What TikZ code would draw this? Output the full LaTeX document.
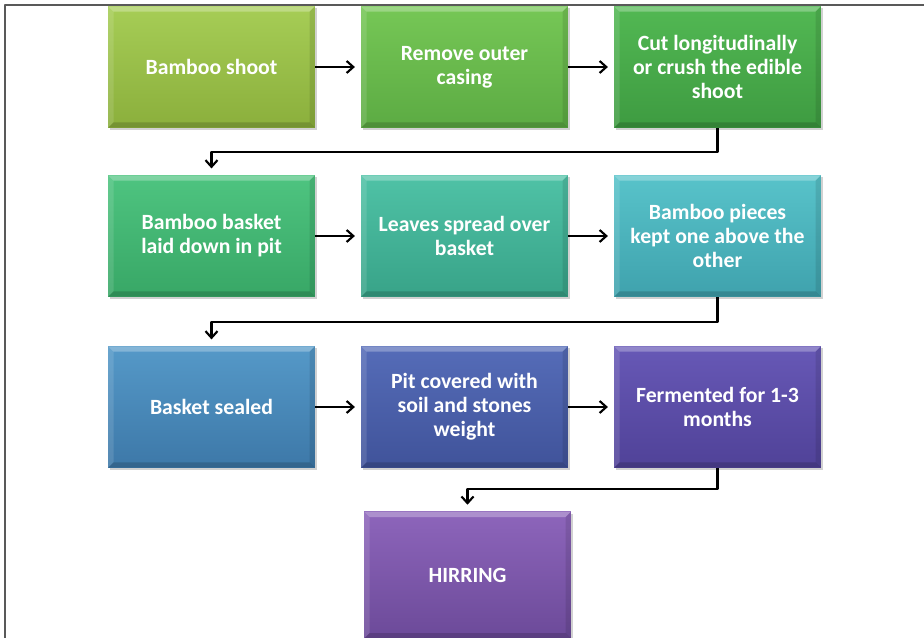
\documentclass[tikz,border=0pt]{standalone}
\usepackage{fontspec}
\setmainfont{Carlito}
\usetikzlibrary{arrows.meta,shadows}
\definecolor{boneT}{HTML}{A6CD56}\definecolor{boneB}{HTML}{8BAF3C}
\definecolor{btwoT}{HTML}{76C756}\definecolor{btwoB}{HTML}{5CAB43}
\definecolor{bthrT}{HTML}{52B853}\definecolor{bthrB}{HTML}{3E9B41}
\definecolor{coneT}{HTML}{4EC480}\definecolor{coneB}{HTML}{38A766}
\definecolor{ctwoT}{HTML}{4FC2A6}\definecolor{ctwoB}{HTML}{38A388}
\definecolor{cthrT}{HTML}{58C3CA}\definecolor{cthrB}{HTML}{3FA2AD}
\definecolor{doneT}{HTML}{5599C8}\definecolor{doneB}{HTML}{3D78A8}
\definecolor{dtwoT}{HTML}{556CB8}\definecolor{dtwoB}{HTML}{40539A}
\definecolor{dthrT}{HTML}{6758B6}\definecolor{dthrB}{HTML}{504298}
\definecolor{lastT}{HTML}{8D65BB}\definecolor{lastB}{HTML}{6C4A99}
\tikzset{stepbox/.style={minimum width=155pt,minimum height=91pt,align=center,text=white,
  font=\fontsize{16.3}{18}\selectfont\bfseries,
  drop shadow={shadow xshift=1.5pt,shadow yshift=-1.5pt,fill=black!40,opacity=.45},
  path picture={
   \fill[white,opacity=.28] (path picture bounding box.north west) -- (path picture bounding box.north east)
     -- ([xshift=-4pt,yshift=-4pt]path picture bounding box.north east) -- ([xshift=4pt,yshift=-4pt]path picture bounding box.north west) -- cycle;
   \fill[white,opacity=.12] (path picture bounding box.north west) -- (path picture bounding box.south west)
     -- ([xshift=4pt,yshift=4pt]path picture bounding box.south west) -- ([xshift=4pt,yshift=-4pt]path picture bounding box.north west) -- cycle;
   \fill[black,opacity=.1] (path picture bounding box.north east) -- (path picture bounding box.south east)
     -- ([xshift=-4pt,yshift=4pt]path picture bounding box.south east) -- ([xshift=-4pt,yshift=-4pt]path picture bounding box.north east) -- cycle;
   \fill[black,opacity=.16] (path picture bounding box.south west) -- (path picture bounding box.south east)
     -- ([xshift=-4pt,yshift=4pt]path picture bounding box.south east) -- ([xshift=4pt,yshift=4pt]path picture bounding box.south west) -- cycle;}},
  shade/.style 2 args={top color=#1,bottom color=#2}}

\begin{document}
\begin{tikzpicture}[x=0.75pt,y=-0.75pt,line join=round,
  link/.style={-{Straight Barb[length=5pt,width=9pt,line width=1.6pt]},line width=1.7pt,shorten >=5pt}]
\useasboundingbox (0,0) rectangle (924,638);
\clip (0,0) rectangle (924,638);
% frame
\draw[line width=1.4pt,black!65] (5,640) -- (5,5) -- (926,5);
% --- row 1
\node[stepbox,shade={boneT}{boneB}] (b1) at (211.5,67) {Bamboo shoot};
\node[stepbox,shade={btwoT}{btwoB}] (b2) at (464.5,67) {Remove outer\\casing};
\node[stepbox,shade={bthrT}{bthrB}] (b3) at (717.5,67) {Cut longitudinally\\or crush the edible\\shoot};
% --- row 2
\node[stepbox,shade={coneT}{coneB}] (c1) at (211.5,236) {Bamboo basket\\laid down in pit};
\node[stepbox,shade={ctwoT}{ctwoB}] (c2) at (464.5,236) {Leaves spread over\\basket};
\node[stepbox,shade={cthrT}{cthrB}] (c3) at (717.5,236) {Bamboo pieces\\kept one above the\\other};
% --- row 3
\node[stepbox,shade={doneT}{doneB}] (d1) at (211.5,407) {Basket sealed};
\node[stepbox,shade={dtwoT}{dtwoB}] (d2) at (464.5,407) {Pit covered with\\soil and stones\\weight};
\node[stepbox,shade={dthrT}{dthrB}] (d3) at (717.5,407) {Fermented for 1-3\\months};
% --- result
\node[stepbox,minimum height=95pt,shade={lastT}{lastB}] (h) at (467.5,575) {HIRRING};
% connectors
\foreach \a/\b in {b1/b2,b2/b3,c1/c2,c2/c3,d1/d2,d2/d3} {\draw[link,shorten >=4.5pt] (\a) -- (\b);}
\draw[link] (b3.south) -- ++(0,24) -| (c1.north);
\draw[link] (c3.south) -- ++(0,25) -| (d1.north);
\draw[link] (d3.south) -- ++(0,21) -| (h.north);
\end{tikzpicture}
\end{document}
